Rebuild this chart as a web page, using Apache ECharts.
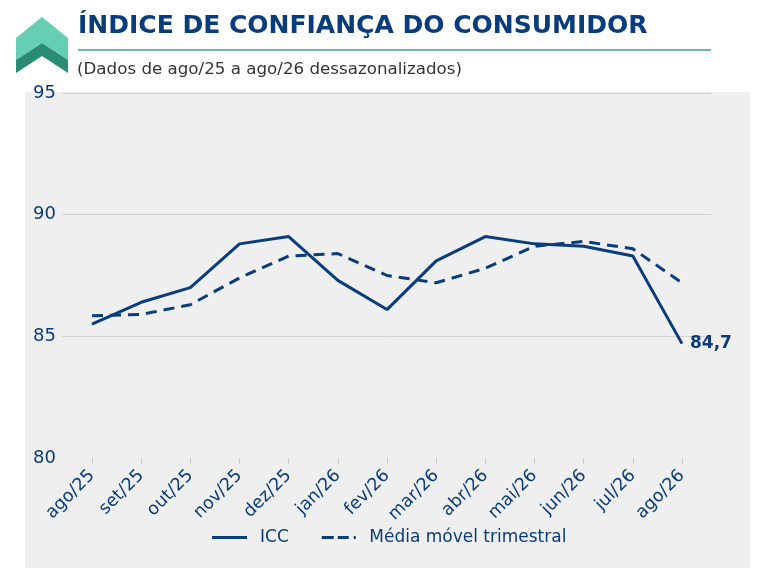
<!DOCTYPE html>
<html>
<head>
<meta charset="utf-8">
<script src="https://cdn.jsdelivr.net/npm/echarts@6/dist/echarts.min.js"></script>
<style>
html,body{margin:0;padding:0;background:#fff;}
#c{width:762px;height:581px;}
</style>
</head>
<body>
<div id="c"></div>
<script>
var categories = ['ago/25','set/25','out/25','nov/25','dez/25','jan/26','fev/26','mar/26','abr/26','mai/26','jun/26','jul/26','ago/26'];
var icc = [85.5, 86.4, 87.0, 88.8, 89.1, 87.3, 86.1, 88.1, 89.1, 88.8, 88.7, 88.3, 84.7];
var mediaMovel = [85.85, 85.9, 86.3, 87.4, 88.3, 88.4, 87.5, 87.2, 87.8, 88.7, 88.9, 88.6, 87.2];
var yTicks = [80, 85, 90, 95];

var BLUE = '#083c7c';
var FONT = 'DejaVu Sans';
var chart = echarts.init(document.getElementById('c'));
chart.setOption({
  animation: false,
  textStyle: {fontFamily: FONT},
  title: [
    {text: 'ÍNDICE DE CONFIANÇA DO CONSUMIDOR', left: 73, top: 9,
     textStyle: {fontFamily: FONT, fontWeight: 'bold', fontSize: 25, color: BLUE}},
    {text: '(Dados de ago/25 a ago/26 dessazonalizados)', left: 72, top: 56,
     textStyle: {fontFamily: FONT, fontWeight: 'normal', fontSize: 16.7, color: '#333333'}}
  ],
  graphic: [
    {type: 'rect', z: -10, shape: {x: 25, y: 92, width: 725, height: 476}, style: {fill: '#efefef'}},
    {type: 'rect', shape: {x: 78, y: 49, width: 633, height: 2}, style: {fill: '#72b9a1'}},
    {type: 'polygon', shape: {points: [[16,38],[42,17],[68,38],[68,60],[42,43],[16,60]]}, style: {fill: '#66cfb3'}},
    {type: 'polygon', shape: {points: [[16,60],[42,43],[68,60],[68,73],[42,56],[16,73]]}, style: {fill: '#2b8c74'}}
  ],
  legend: {
    bottom: 30, left: 207,
    itemWidth: 35, itemHeight: 3, itemGap: 33,
    textStyle: {fontFamily: FONT, fontSize: 17, color: BLUE, padding: [0, 0, 0, 8]},
    data: [
      {name: 'ICC', icon: 'path://M0,0H35V3H0Z'},
      {name: 'Média móvel trimestral', icon: 'path://M0,0H12V3H0Z M16,0H27V3H16Z M32,0H34V3H32Z'}
    ]
  },
  grid: [
    {left: 62, right: 51, top: 93, bottom: 123},
    {left: 92, right: 80, top: 93, bottom: 123}
  ],
  xAxis: [
    {type: 'value', gridIndex: 0, show: false, min: 0, max: 1},
    {type: 'category', gridIndex: 1, data: categories, boundaryGap: false,
     axisLine: {show: false},
     axisTick: {show: true, length: 6, lineStyle: {color: '#cccccc'}},
     axisLabel: {rotate: 45, fontFamily: FONT, fontSize: 17.5, color: BLUE, margin: 15, interval: 0}}
  ],
  yAxis: [
    {type: 'value', gridIndex: 0, min: yTicks[0], max: yTicks[yTicks.length-1], interval: 5,
     axisLine: {show: false}, axisTick: {show: false},
     axisLabel: {fontFamily: FONT, fontSize: 18, color: BLUE, margin: 6},
     splitLine: {show: true, lineStyle: {color: '#d2d2d2', width: 1}, showMinLine: false}},
    {type: 'value', gridIndex: 1, min: yTicks[0], max: yTicks[yTicks.length-1], show: false, splitLine: {show: false}}
  ],
  series: [
    {name: 'ICC', type: 'line', xAxisIndex: 1, yAxisIndex: 1, data: icc,
     symbol: 'none', lineStyle: {color: BLUE, width: 3}, itemStyle: {color: BLUE},
     endLabel: {show: true, distance: 8, fontFamily: FONT, fontWeight: 'bold', fontSize: 17, color: BLUE,
       formatter: function(p){ return Number(p.value).toFixed(1).replace('.', ','); }}},
    {name: 'Média móvel trimestral', type: 'line', xAxisIndex: 1, yAxisIndex: 1, data: mediaMovel,
     symbol: 'none', lineStyle: {color: BLUE, width: 3, type: [11, 7]}, itemStyle: {color: BLUE}}
  ]
});
</script>
</body>
</html>
